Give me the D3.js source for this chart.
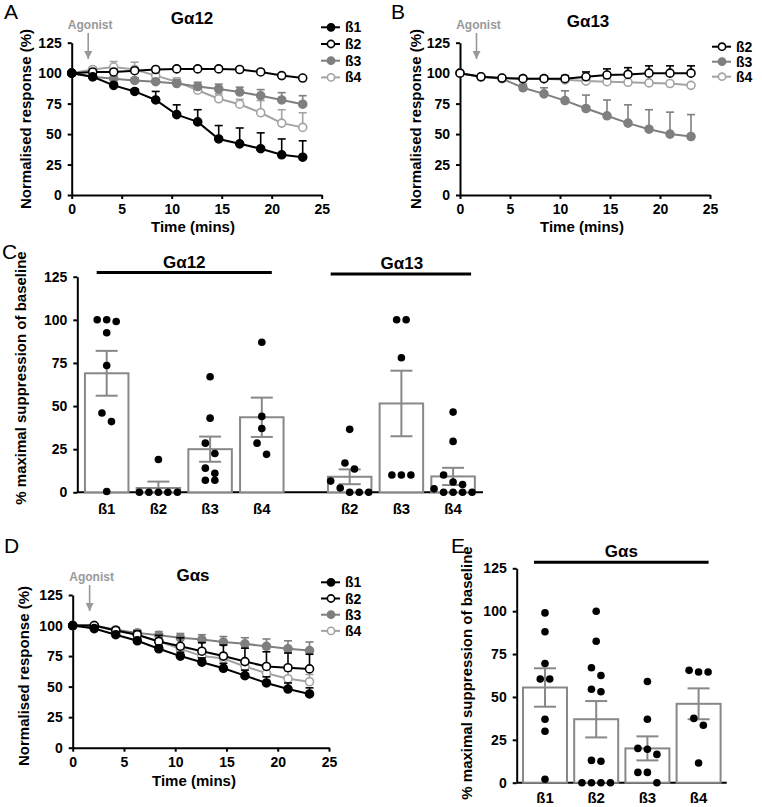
<!DOCTYPE html>
<html>
<head>
<meta charset="utf-8">
<script src="https://cdn.jsdelivr.net/npm/d3@7"></script>
<style>
body { margin: 0; background: #fff; }
text { font-family: "Liberation Sans", Arial, sans-serif; }
</style>
</head>
<body>
<script>
var width = 762,
    height = 807;

// ---- time courses (normalised response %, upper SEM) ----
var times = [0, 2.1, 4.2, 6.3, 8.4, 10.5, 12.6, 14.7, 16.8, 18.9, 21, 23.1];
var xTicks = [0, 5, 10, 15, 20, 25];
var yTicks = [0, 25, 50, 75, 100, 125];

var a_b1 = [100, 97, 90, 85, 78, 66, 60, 46, 42, 38, 33, 31];
var a_b1_sem = [0, 1, 2, 2, 7, 8, 10, 11, 13, 13, 13, 13.5];
var a_b2 = [100, 101, 101, 102, 103, 103.5, 103.5, 103.5, 103, 101, 98, 96];
var a_b2_sem = [0, 1, 1, 1, 1, 1.5, 1.5, 1.5, 1.5, 1.5, 1.5, 1.5];
var a_b3 = [100, 97, 95.5, 94, 93, 91.5, 89, 87, 84.5, 81.5, 78, 74.5];
var a_b3_sem = [0, 1, 2, 2, 2, 3, 3.5, 4, 4, 5, 6, 7];
var a_b4 = [100, 103, 105, 103, 98, 93, 86, 79, 74.5, 67.5, 59, 55.5];
var a_b4_sem = [0, 2, 4.5, 6, 3, 3, 4, 4, 4, 10, 11, 12];

var b_b2 = [100, 97, 96, 95.5, 95.5, 95.5, 97, 98.5, 99, 100, 100, 100];
var b_b2_sem = [0, 1, 1.5, 2, 2, 2.5, 4, 5, 5.5, 6, 6, 6];
var b_b3 = [100, 97, 95.5, 88, 83, 77.5, 71, 65, 59, 54, 50, 48];
var b_b3_sem = [0, 1, 2, 3, 5, 8, 11, 13, 15, 16, 18, 18];
var b_b4 = [100, 97, 96, 95.5, 95.5, 94.5, 93.5, 93, 92.5, 92, 91.5, 90];
var b_b4_sem = [0, 1, 1, 1, 1.5, 1.5, 1.5, 1.5, 1.5, 1.5, 1.5, 1.5];

var d_b1 = [100, 97.5, 92.5, 87.5, 81, 75, 70, 65, 59, 53, 48, 44];
var d_b1_sem = [0, 1, 1.5, 2, 2.5, 3, 3.5, 4, 4.5, 5, 5, 5];
var d_b2 = [100, 100, 96, 92.5, 87, 83, 79, 75, 70.5, 66.5, 65.5, 64.5];
var d_b2_sem = [0, 1, 2, 3, 5, 7, 7, 9, 11, 12, 12, 12];
var d_b3 = [100, 100, 96.5, 94, 92, 90, 88.5, 86.5, 85, 83, 81, 79.5];
var d_b3_sem = [0, 1, 2, 2.5, 3, 3.5, 4, 4.5, 5, 6, 6.5, 7];
var d_b4 = [100, 100, 96, 92.5, 87, 81, 75, 73, 66.5, 61, 56.5, 54];
var d_b4_sem = [0, 1, 2, 2.5, 3, 3.5, 4, 4.5, 5, 5.5, 6, 6];

// ---- % maximal suppression of baseline ----
var c12_cats = ["ß1", "ß2", "ß3", "ß4"];
var c12_dots = [
  [100, 99, 100, 92.5, 73.5, 46, 41, 0.5],
  [19, 0, 0, 0, 0, 0],
  [67, 43, 28.5, 22.5, 14, 11, 7, 7],
  [87, 44, 37, 28.5, 22]
];
var c12_mean = [69, 2.5, 25, 43.5];
var c12_sem = [13, 3.7, 7.3, 11.4];

var c13_cats = ["ß2", "ß3", "ß4"];
var c13_dots = [
  [36.5, 17, 13.5, 6.5, 2.5, 0, 0, 0],
  [100, 100, 78, 10, 10, 10],
  [46.5, 29.5, 10, 6, 4.5, 2, 0, 0, 0, 0]
];
var c13_mean = [9, 51.5, 9.2];
var c13_sem = [4.3, 19, 5];

var e_cats = ["ß1", "ß2", "ß3", "ß4"];
var e_dots = [
  [99, 88, 69.5, 60.5, 60.5, 37, 30, 2],
  [100, 82.5, 67, 62.5, 54.5, 53, 13, 12.5, 0, 0, 0, 0],
  [59, 37, 20, 19.5, 16.5, 6, 6, 0],
  [65.5, 64.5, 64.5, 37.5, 33.5, 11.5]
];
var e_mean = [55.5, 37, 20, 46];
var e_sem = [11.2, 10.6, 7, 9];

// ---- styles ----
var col = {"ß1": "#000", "ß2": "#000", "ß3": "#7f7f7f", "ß4": "#a3a3a3"};
var filled = {"ß1": true, "ß2": false, "ß3": true, "ß4": false};
var barGrey = "#888";
var agonistGrey = "#999";

var svg = d3.select("body").append("svg")
    .attr("width", width)
    .attr("height", height);

svg.append("defs").append("marker")
    .attr("id", "arrow")
    .attr("viewBox", "0 0 10 10")
    .attr("refX", 10).attr("refY", 5)
    .attr("markerWidth", 5).attr("markerHeight", 5)
    .attr("orient", "auto")
  .append("path")
    .attr("d", "M0,0L10,5L0,10z")
    .attr("fill", agonistGrey);

function styleAxis(g) {
  g.selectAll(".domain").attr("stroke", "#000").attr("stroke-width", 2);
  g.selectAll(".tick line").attr("stroke", "#000").attr("stroke-width", 2);
  g.attr("font-size", 14).attr("font-family", "'Liberation Sans', Arial, sans-serif")
    .attr("font-weight", "bold");
}

function letter(t, x, y) {
  svg.append("text").attr("x", x).attr("y", y)
    .attr("font-size", 21).text(t);
}

function yTitle(t, x, y) {
  svg.append("text")
    .attr("transform", "translate(" + x + "," + y + ") rotate(-90)")
    .attr("text-anchor", "middle").attr("dy", "0.35em")
    .attr("font-size", 15).attr("font-weight", "bold")
    .text(t);
}

function linePanel(p) {
  var x = d3.scaleLinear().domain([0, 25]).range([p.left, p.right]);
  var y = d3.scaleLinear().domain([0, 125]).range([p.bottom, p.top]);
  var g = svg.append("g");

  g.append("g")
      .attr("transform", "translate(0," + p.bottom + ")")
      .call(d3.axisBottom(x).tickValues(xTicks).tickSize(4).tickSizeOuter(0).tickPadding(5))
      .call(styleAxis);
  g.append("g")
      .attr("transform", "translate(" + p.left + ",0)")
      .call(d3.axisLeft(y).tickValues(yTicks).tickSize(4).tickSizeOuter(0).tickPadding(6))
      .call(styleAxis);

  var line = d3.line()
      .x(function(d) { return x(d.t); })
      .y(function(d) { return y(d.v); });

  // draw last legend entry first so ß1 ends on top
  p.series.slice().reverse().forEach(function(s) {
    var pts = times.map(function(t, i) { return {t: t, v: s.vals[i], e: s.sem[i]}; });
    var c = col[s.name];
    g.append("path").datum(pts)
        .attr("d", line)
        .attr("fill", "none")
        .attr("stroke", c)
        .attr("stroke-width", 2);
    var eb = g.selectAll(null).data(pts.filter(function(d) { return d.e > 0; })).enter();
    eb.append("line")
        .attr("x1", function(d) { return x(d.t); })
        .attr("x2", function(d) { return x(d.t); })
        .attr("y1", function(d) { return y(d.v); })
        .attr("y2", function(d) { return y(d.v + d.e); })
        .attr("stroke", c).attr("stroke-width", 1.6);
    eb.append("line")
        .attr("x1", function(d) { return x(d.t) - 4; })
        .attr("x2", function(d) { return x(d.t) + 4; })
        .attr("y1", function(d) { return y(d.v + d.e); })
        .attr("y2", function(d) { return y(d.v + d.e); })
        .attr("stroke", c).attr("stroke-width", 1.6);
    g.selectAll(null).data(pts).enter().append("circle")
        .attr("cx", function(d) { return x(d.t); })
        .attr("cy", function(d) { return y(d.v); })
        .attr("r", 4)
        .attr("fill", filled[s.name] ? c : "#fff")
        .attr("stroke", c)
        .attr("stroke-width", 1.6);
  });

  // title
  g.append("text").attr("x", p.titleX).attr("y", p.titleY)
      .attr("text-anchor", "middle")
      .attr("font-size", 17).attr("font-weight", "bold")
      .text(p.title);

  // agonist arrow
  var ax = x(1.65);
  g.append("text").attr("x", ax + 2).attr("y", p.agonistY)
      .attr("text-anchor", "middle")
      .attr("font-size", 12).attr("font-weight", "bold")
      .attr("fill", agonistGrey)
      .text("Agonist");
  g.append("line")
      .attr("x1", ax).attr("x2", ax)
      .attr("y1", p.agonistY + 4).attr("y2", p.agonistY + 30)
      .attr("stroke", agonistGrey).attr("stroke-width", 1.6)
      .attr("marker-end", "url(#arrow)");

  // x title
  g.append("text").attr("x", p.xTitleX).attr("y", p.xTitleY)
      .attr("text-anchor", "middle")
      .attr("font-size", 15).attr("font-weight", "bold")
      .text("Time (mins)");

  // legend
  p.series.forEach(function(s, i) {
    var ry = p.legY + i * p.legStep;
    var c = col[s.name];
    g.append("line")
        .attr("x1", p.legX).attr("x2", p.legX + 19)
        .attr("y1", ry).attr("y2", ry)
        .attr("stroke", c).attr("stroke-width", 2);
    g.append("circle")
        .attr("cx", p.legX + 10).attr("cy", ry).attr("r", 3.6)
        .attr("fill", filled[s.name] ? c : "#fff")
        .attr("stroke", c).attr("stroke-width", 1.6);
    g.append("text")
        .attr("x", p.legX + 24).attr("y", ry).attr("dy", "0.36em")
        .attr("font-size", 14).attr("font-weight", "bold")
        .text(s.name);
  });
}

// place dots in centred rows, GraphPad-style
function swarm(vals, y, d) {
  var sorted = vals.slice().sort(function(a, b) { return b - a; });
  var rows = [], cur = null;
  sorted.forEach(function(v) {
    var py = y(v);
    if (cur && Math.abs(py - cur.y0) < d * 1.2) cur.items.push(py);
    else { cur = {y0: py, items: [py]}; rows.push(cur); }
  });
  var out = [];
  rows.forEach(function(r) {
    var n = r.items.length;
    r.items.forEach(function(py, i) { out.push({dx: (i - (n - 1) / 2) * d, y: py}); });
  });
  return out;
}

function barPanel(p) {
  var y = d3.scaleLinear().domain([0, 125]).range([p.bottom, p.top]);
  var x = d3.scaleLinear().domain([0, 1]).range([p.first, p.first + p.step]);
  var g = svg.append("g");

  g.append("g")
      .attr("transform", "translate(" + p.left + ",0)")
      .call(d3.axisLeft(y).tickValues(yTicks).tickSize(4).tickSizeOuter(0).tickPadding(6))
      .call(styleAxis);
  g.append("line")
      .attr("x1", p.left).attr("x2", p.right)
      .attr("y1", p.bottom).attr("y2", p.bottom)
      .attr("stroke", "#000").attr("stroke-width", 2);

  var slot = 0;
  p.groups.forEach(function(grp, gi) {
    var first = slot;
    grp.cats.forEach(function(cat, i) {
      var cx = x(slot);
      g.append("rect")
          .attr("x", cx - p.barW / 2).attr("y", y(grp.mean[i]))
          .attr("width", p.barW).attr("height", y(0) - y(grp.mean[i]))
          .attr("fill", "#fff").attr("stroke", barGrey).attr("stroke-width", 2);
      var lo = Math.max(0, grp.mean[i] - grp.sem[i]), hi = grp.mean[i] + grp.sem[i];
      g.append("line").attr("x1", cx).attr("x2", cx)
          .attr("y1", y(lo)).attr("y2", y(hi))
          .attr("stroke", barGrey).attr("stroke-width", 2);
      [lo, hi].forEach(function(v) {
        g.append("line").attr("x1", cx - 11).attr("x2", cx + 11)
            .attr("y1", y(v)).attr("y2", y(v))
            .attr("stroke", barGrey).attr("stroke-width", 2);
      });
      g.selectAll(null).data(swarm(grp.dots[i], y, 9.5)).enter().append("circle")
          .attr("cx", function(d) { return cx + d.dx; })
          .attr("cy", function(d) { return d.y; })
          .attr("r", 3.8)
          .attr("fill", "#000");
      g.append("text").attr("x", cx).attr("y", p.catY)
          .attr("text-anchor", "middle")
          .attr("font-size", 15).attr("font-weight", "bold")
          .text(cat);
      slot += 1;
    });
    var last = slot - 1;
    var lx1 = x(first) - grp.ext[0], lx2 = x(last) + grp.ext[1];
    g.append("line").attr("x1", lx1).attr("x2", lx2)
        .attr("y1", grp.lineY).attr("y2", grp.lineY)
        .attr("stroke", "#000").attr("stroke-width", 3);
    g.append("text").attr("x", (lx1 + lx2) / 2 + grp.titleShift).attr("y", grp.lineY - 5)
        .attr("text-anchor", "middle")
        .attr("font-size", 17).attr("font-weight", "bold")
        .text(grp.title);
    slot += p.gap;
  });
}

// ---- panel A ----
letter("A", 4, 19);
yTitle("Normalised response (%)", 26, 119);
linePanel({
  left: 71.7, right: 321.7, top: 42.7, bottom: 195,
  title: "Gα12", titleX: 192, titleY: 24, agonistY: 29,
  xTitleX: 193, xTitleY: 232,
  legX: 321, legY: 27.3, legStep: 16.7,
  series: [
    {name: "ß1", vals: a_b1, sem: a_b1_sem},
    {name: "ß2", vals: a_b2, sem: a_b2_sem},
    {name: "ß3", vals: a_b3, sem: a_b3_sem},
    {name: "ß4", vals: a_b4, sem: a_b4_sem}
  ]
});

// ---- panel B ----
letter("B", 391, 19);
yTitle("Normalised response (%)", 416, 119);
linePanel({
  left: 460, right: 710, top: 42.7, bottom: 195,
  title: "Gα13", titleX: 588, titleY: 27, agonistY: 29,
  xTitleX: 582, xTitleY: 232,
  legX: 712, legY: 46.7, legStep: 15,
  series: [
    {name: "ß2", vals: b_b2, sem: b_b2_sem},
    {name: "ß3", vals: b_b3, sem: b_b3_sem},
    {name: "ß4", vals: b_b4, sem: b_b4_sem}
  ]
});

// ---- panel C ----
letter("C", 2, 259);
yTitle("% maximal suppression of baseline", 21, 378);
barPanel({
  left: 77.3, right: 483, top: 276.7, bottom: 492.3,
  first: 106.7, step: 51.7, gap: 0.7, barW: 43.5, catY: 514,
  groups: [
    {title: "Gα12", cats: c12_cats, dots: c12_dots, mean: c12_mean, sem: c12_sem,
     lineY: 272.5, ext: [10, 10], titleShift: 0},
    {title: "Gα13", cats: c13_cats, dots: c13_dots, mean: c13_mean, sem: c13_sem,
     lineY: 274, ext: [19, 18], titleShift: 1}
  ]
});

// ---- panel D ----
letter("D", 4, 553);
yTitle("Normalised response (%)", 24, 676);
linePanel({
  left: 72.7, right: 329, top: 595, bottom: 747.7,
  title: "Gαs", titleX: 193, titleY: 581, agonistY: 581,
  xTitleX: 194, xTitleY: 786,
  legX: 321, legY: 582.3, legStep: 16.2,
  series: [
    {name: "ß1", vals: d_b1, sem: d_b1_sem},
    {name: "ß2", vals: d_b2, sem: d_b2_sem},
    {name: "ß3", vals: d_b3, sem: d_b3_sem},
    {name: "ß4", vals: d_b4, sem: d_b4_sem}
  ]
});

// ---- panel E ----
letter("E", 451, 553);
yTitle("% maximal suppression of baseline", 467, 673);
barPanel({
  left: 516.7, right: 726.7, top: 568.3, bottom: 782.7,
  first: 545, step: 51.2, gap: 0, barW: 44, catY: 803,
  groups: [
    {title: "Gαs", cats: e_cats, dots: e_dots, mean: e_mean, sem: e_sem,
     lineY: 562.3, ext: [11, 10], titleShift: 0}
  ]
});
</script>
</body>
</html>
